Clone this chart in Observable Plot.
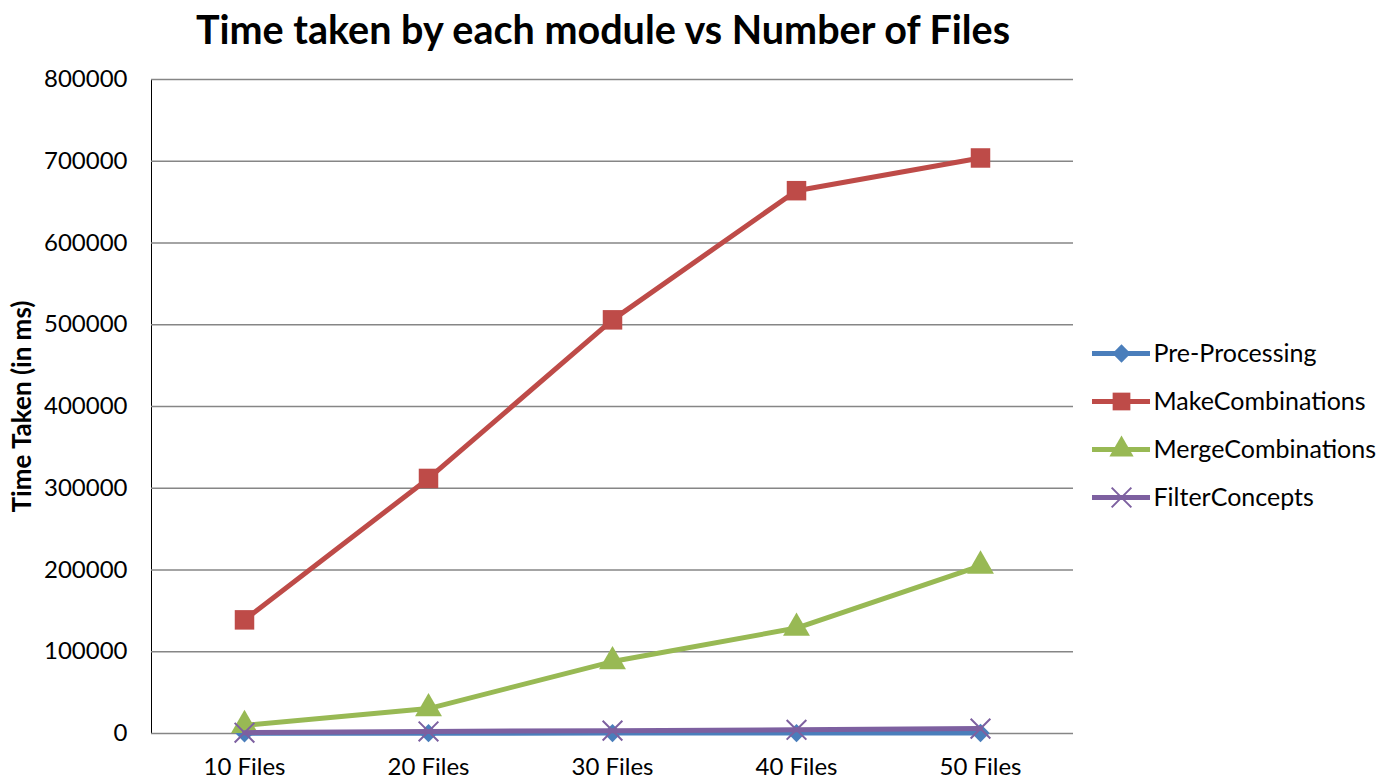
<!DOCTYPE html>
<html>
<head>
<meta charset="utf-8">
<script src="https://cdn.jsdelivr.net/npm/d3@7"></script>
<script src="https://cdn.jsdelivr.net/npm/@observablehq/plot@0.6"></script>
<style>
  body { margin: 0; background: #fff; font-family: Lato, "Open Sans", sans-serif; }
  #wrap { position: relative; width: 1390px; height: 781px; }
  #title { height: 60px; width: 1206px; text-align: center; font-weight: bold; font-size: 39.5px; line-height: 58px; color: #000; }
  #legend { position: absolute; left: 1092px; top: 330px; }
</style>
</head>
<body>
<div id="wrap">
  <div id="title">Time taken by each module vs Number of Files</div>
  <div id="chart"></div>
  <div id="legend"></div>
</div>
<script>
const categories = ["10 Files", "20 Files", "30 Files", "40 Files", "50 Files"];
const seriesNames = ["Pre-Processing", "MakeCombinations", "MergeCombinations", "FilterConcepts"];
const preProcessing = [300, 400, 500, 500, 600];
const makeCombinations = [139000, 312000, 506000, 664000, 704000];
const mergeCombinations = [10000, 30500, 88000, 129000, 205000];
const filterConcepts = [1000, 2500, 3500, 4500, 6000];
const yTicks = [0, 100000, 200000, 300000, 400000, 500000, 600000, 700000, 800000];
const yLabel = "Time Taken (in ms)";

const colors = ["#4A7EBB", "#BE4B48", "#98B954", "#7D60A0"];
const symbols = ["diamond", "square", "triangle", "times"];
const valuesBySeries = [preProcessing, makeCombinations, mergeCombinations, filterConcepts];

const rows = [];
seriesNames.forEach((s, i) => {
  categories.forEach((c, j) => rows.push({series: s, cat: c, value: valuesBySeries[i][j]}));
});

function markerOpts(i, base, big) {
  const sym = symbols[i];
  if (sym === "times") return {...base, symbol: "times", r: 9, stroke: colors[i], strokeWidth: 2};
  if (sym === "diamond") return {...base, symbol: "square", rotate: 45, r: 7.3, fill: colors[i], stroke: "none"};
  if (sym === "square") return {...base, symbol: "square", r: big ? 11 : 10, fill: colors[i], stroke: "none"};
  return {...base, symbol: sym, r: big ? 10 : 9, fill: colors[i], stroke: "none"};
}

const seriesMarks = [];
seriesNames.forEach((s, i) => {
  const d = rows.filter(r => r.series === s);
  seriesMarks.push(Plot.line(d, {x: "cat", y: "value", stroke: colors[i], strokeWidth: 5, strokeLinejoin: "round"}));
  seriesMarks.push(Plot.dot(d, markerOpts(i, {x: "cat", y: "value"}, true)));
});

const chart = Plot.plot({
  width: 1390,
  height: 721,
  marginTop: 19,
  marginBottom: 48,
  marginLeft: 151,
  marginRight: 317,
  style: {fontFamily: "Lato, 'Open Sans', sans-serif", fontSize: "24px", color: "#000", background: "#fff"},
  x: {type: "point", domain: categories, padding: 0.5, label: null, tickSize: 0, tickPadding: 24},
  y: {domain: [0, 800000], ticks: yTicks, tickFormat: d => String(d), label: null, tickSize: 0, tickPadding: 24, line: true},
  marks: [
    Plot.gridY(yTicks, {stroke: "#868686", strokeOpacity: 1, strokeWidth: 1.5}),
    ...seriesMarks,
    Plot.text([yLabel], {frameAnchor: "left", textAnchor: "middle", rotate: -90, dx: -129, fontWeight: "bold", fontSize: 26, text: d => d})
  ]
});
document.getElementById("chart").appendChild(chart);

const legend = Plot.plot({
  width: 295,
  height: 190,
  margin: 0,
  style: {fontFamily: "Lato, 'Open Sans', sans-serif", fontSize: "25px", color: "#000", background: "transparent"},
  x: {domain: [0, 295], range: [0, 295], axis: null},
  y: {type: "point", domain: seriesNames, range: [22, 167], padding: 0, axis: null},
  marks: [
    Plot.ruleY(seriesNames, {y: d => d, x1: 0, x2: 58, stroke: d => colors[seriesNames.indexOf(d)], strokeWidth: 5}),
    ...seriesNames.map((s, i) => Plot.dot([s], markerOpts(i, {y: d => d, x: 29}, false))),
    Plot.text(seriesNames, {y: d => d, x: 61, text: d => d, textAnchor: "start"})
  ]
});
document.getElementById("legend").appendChild(legend);
</script>
</body>
</html>
